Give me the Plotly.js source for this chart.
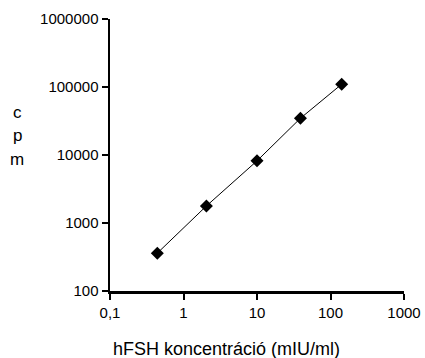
<!DOCTYPE html>
<html>
<head>
<meta charset="utf-8">
<script src="https://cdn.plot.ly/plotly-3.0.1.min.js"></script>
<style>html,body{margin:0;padding:0;background:#fff;}#chart{width:425px;height:358px;}</style>
</head>
<body>
<div id="chart"></div>
<script>
// Data
const concentration = [0.44, 2.05, 10, 39, 142];
const cpm = [360, 1780, 8200, 34700, 110000];

const xTickVals = [0.1, 1, 10, 100, 1000];
const xTickText = ["0,1", "1", "10", "100", "1000"];
const yTickVals = [100, 1000, 10000, 100000, 1000000];
const yTickText = ["100", "1000", "10000", "100000", "1000000"];

const xTitle = "hFSH koncentráció (mIU/ml)";
const yTitleLetters = ["c", "p", "m"];

const font = "Liberation Sans, Arial, sans-serif";

const trace = {
  x: concentration,
  y: cpm,
  type: "scatter",
  mode: "lines+markers",
  line: {color: "#000", width: 1},
  marker: {symbol: "diamond", size: 10, color: "#000"},
  showlegend: false
};

const letterY = [0.658, 0.570, 0.482];
const annotations = yTitleLetters.map((t, i) => ({
  text: t, xref: "paper", yref: "paper", x: -0.316, y: letterY[i],
  xanchor: "center", yanchor: "middle", showarrow: false,
  font: {family: font, size: 17, color: "#000"}
}));
annotations.push({
  text: xTitle, xref: "paper", yref: "paper", x: 0.395, y: 0, yshift: -58,
  xanchor: "center", yanchor: "middle", showarrow: false,
  font: {family: font, size: 18, color: "#000"}
});

const layout = {
  width: 425, height: 358,
  margin: {l: 110, r: 21, t: 19, b: 67},
  paper_bgcolor: "#fff", plot_bgcolor: "#fff",
  font: {family: font, size: 15, color: "#000"},
  xaxis: {
    type: "log", range: [-1, 3],
    tickvals: xTickVals, ticktext: xTickText,
    showgrid: false, zeroline: false,
    showline: true, linecolor: "#000", linewidth: 2.5,
    ticks: "outside", ticklen: 6, tickwidth: 2, tickcolor: "#000",
    tickfont: {family: font, size: 15, color: "#000"}
  },
  yaxis: {
    type: "log", range: [2, 6],
    tickvals: yTickVals, ticktext: yTickText,
    showgrid: false, zeroline: false,
    showline: true, linecolor: "#000", linewidth: 2.5,
    ticks: "outside", ticklen: 6, tickwidth: 2, tickcolor: "#000",
    tickfont: {family: font, size: 15, color: "#000"}
  },
  annotations: annotations
};

Plotly.newPlot("chart", [trace], layout, {displayModeBar: false, staticPlot: true});
</script>
</body>
</html>
